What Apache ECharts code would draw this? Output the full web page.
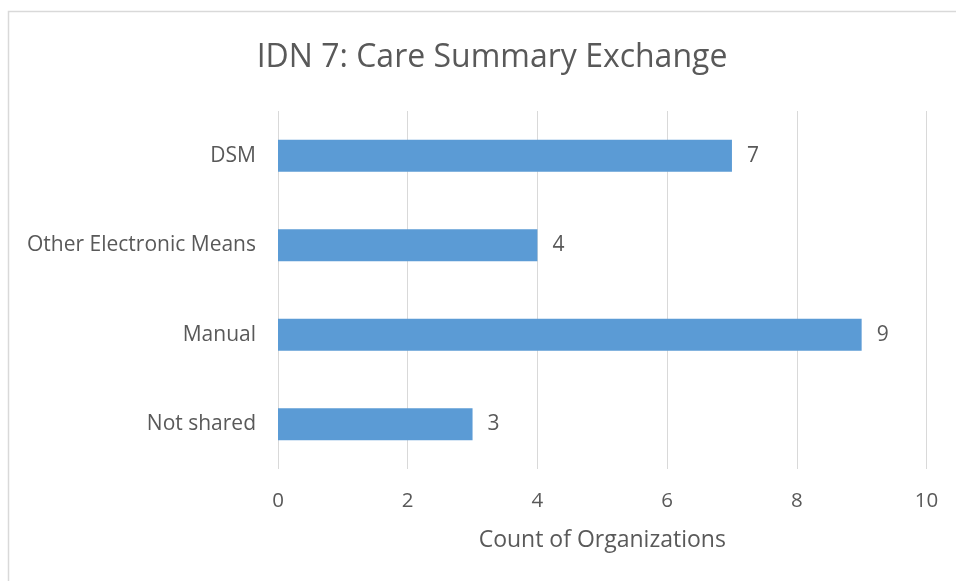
<!DOCTYPE html>
<html>
<head>
<meta charset="utf-8">
<script src="https://cdn.jsdelivr.net/npm/echarts@6/dist/echarts.min.js"></script>
<style>
    html, body { margin: 0; padding: 0; background: #fff; }
    #main { width: 956px; height: 581px; }
</style>
</head>
<body>
<div id="main"></div>
<script>
    var categories = ['Not shared', 'Manual', 'Other Electronic Means', 'DSM'];
    var counts = [3, 9, 4, 7];
    var xTicks = [0, 2, 4, 6, 8, 10];

    var chart = echarts.init(document.getElementById('main'));
    var font = '"Open Sans", "Noto Sans", sans-serif';
    var option = {
        backgroundColor: '#fff',
        animation: false,
        graphic: [{
            type: 'rect',
            shape: { x: 8.5, y: 11.5, width: 960, height: 600 },
            style: { fill: 'none', stroke: '#d9d9d9', lineWidth: 1.5 },
            silent: true
        }],
        title: {
            text: 'IDN 7: Care Summary Exchange',
            left: 487, top: 37, textAlign: 'center',
            textStyle: { fontFamily: font, fontSize: 32, fontWeight: 'normal', color: '#595959' }
        },
        grid: { left: 278, right: 29.5, top: 111, bottom: 112 },
        xAxis: {
            type: 'value', min: xTicks[0], max: xTicks[xTicks.length - 1], interval: 2,
            name: 'Count of Organizations', nameLocation: 'middle', nameGap: 60,
            nameTextStyle: { fontFamily: font, fontSize: 23, color: '#595959' },
            axisLine: { show: false }, axisTick: { show: false },
            axisLabel: { fontFamily: font, fontSize: 20.5, color: '#595959', margin: 22 },
            splitLine: { lineStyle: { color: '#d9d9d9', width: 1 } }
        },
        yAxis: {
            type: 'category', data: categories,
            axisLine: { show: false }, axisTick: { show: false },
            axisLabel: { fontFamily: font, fontSize: 21, color: '#595959', margin: 22 }
        },
        series: [{
            type: 'bar', data: counts, barWidth: 32,
            itemStyle: { color: '#5b9bd5' },
            label: {
                show: true, position: 'right', distance: 15,
                fontFamily: font, fontSize: 21, color: '#595959'
            }
        }]
    };
    chart.setOption(option);
</script>
</body>
</html>
